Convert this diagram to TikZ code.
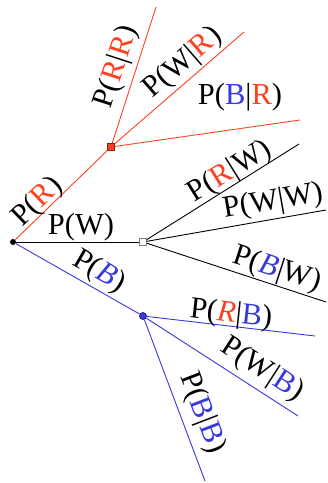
\documentclass[tikz,border=0pt]{standalone}
\usepackage{fontspec}
\setmainfont{Liberation Serif}
\definecolor{ballred}{RGB}{255,64,32}
\definecolor{ballblue}{RGB}{56,56,224}
\newcommand{\Rd}{\textcolor{ballred}{R}}
\newcommand{\Bl}{\textcolor{ballblue}{B}}
\newcommand{\Rdi}{\textcolor{ballred}{\textit{R}}}
\newcommand{\Bli}{\textcolor{ballblue}{\textit{B}}}

\begin{document}
\begin{tikzpicture}[x=1pt, y=1pt, font=\fontsize{30.5}{30.5}\selectfont,
    branch/.style={line width=0.9pt},
    lab/.style={inner sep=0pt, text=black},
    knot/.style={minimum size=7pt, inner sep=0pt, line width=0.7pt},
]
    \useasboundingbox (0,0) rectangle (328,483);

    % --- knots of the tree ---
    \node[circle, fill=black, minimum size=6pt, inner sep=0pt] (root) at (13,241) {};
    \node[knot, fill=ballred, draw=ballred!50!black] (kR) at (111,336) {};
    \node[knot, fill=white, draw=gray] (kW) at (143,241) {};
    \node[knot, circle, fill=ballblue, draw=ballblue!50!black] (kB) at (143,167) {};

    % --- free ends of the second draw ---
    \coordinate (eRR) at (156,476);
    \coordinate (eWR) at (244,451);
    \coordinate (eBR) at (300,363);
    \coordinate (eRW) at (299,339);
    \coordinate (eWW) at (326,273);
    \coordinate (eBW) at (326,181);
    \coordinate (eRB) at (315,147);
    \coordinate (eWB) at (298,67);
    \coordinate (eBB) at (205,2);

    % --- first draw ---
    \draw[branch, ballred]  (root) -- (kR);
    \draw[branch, black]    (root) -- (kW);
    \draw[branch, ballblue] (root) -- (kB);

    % --- second draw ---
    \draw[branch, ballred]  (kR) -- (eRR);
    \draw[branch, ballred]  (kR) -- (eWR);
    \draw[branch, ballred]  (kR) -- (eBR);
    \draw[branch, black]    (kW) -- (eRW);
    \draw[branch, black]    (kW) -- (eWW);
    \draw[branch, black]    (kW) -- (eBW);
    \draw[branch, ballblue] (kB) -- (eRB);
    \draw[branch, ballblue] (kB) -- (eWB);
    \draw[branch, ballblue] (kB) -- (eBB);

    % --- labels ---
    \node[lab, rotate=44]  (lR)  at (38,281)  {P(\Rd)};
    \node[lab]             (lW)  at (81,256)  {P(W)};
    \node[lab, rotate=-30] (lB)  at (99,211)  {P(\Bli)};
    \node[lab, rotate=72]  (lRR) at (117,416) {P(\Rd|\Rd)};
    \node[lab, rotate=41]  (lWR) at (183,420) {P(W|\Rd)};
    \node[lab]             (lBR) at (240,386) {P(\Bl|\Rd)};
    \node[lab, rotate=32]  (lRW) at (230,311) {P(\Rd|W)};
    \node[lab, rotate=10]  (lWW) at (273,281) {P(W|W)};
    \node[lab, rotate=-18] (lBW) at (277,213) {P(\Bli|W)};
    \node[lab, rotate=-6]  (lRB) at (231,168) {P(\Rdi|\Bl)};
    \node[lab, rotate=-33] (lWB) at (262,113) {P(W|\Bl)};
    \node[lab, rotate=-69] (lBB) at (202,70)  {P(\Bl|\Bl)};

\end{tikzpicture}
\end{document}
